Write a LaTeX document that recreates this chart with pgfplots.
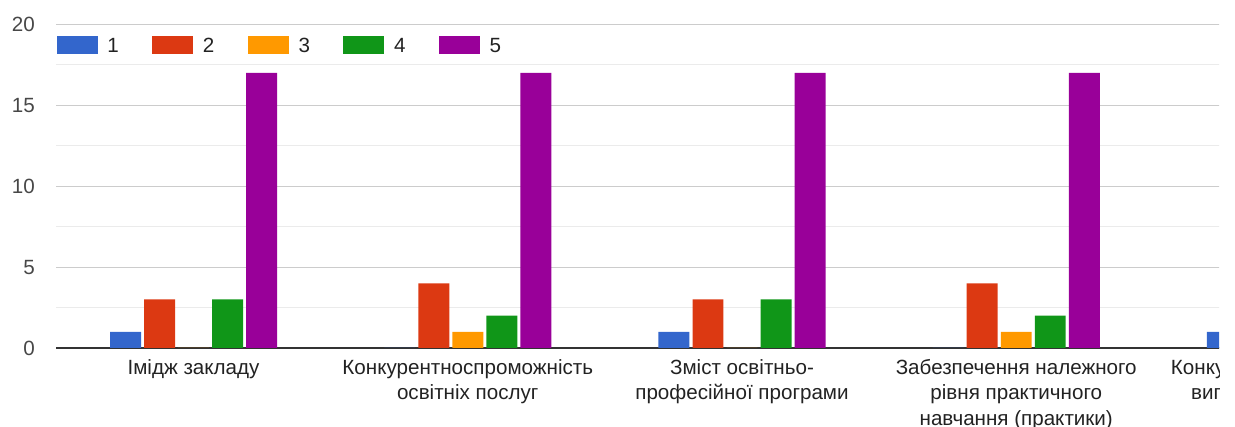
\documentclass[border=0pt]{standalone}
\usepackage{fontspec}
\setmainfont{Liberation Sans}
\usepackage{pgfplots}
\pgfplotsset{compat=1.18}

\definecolor{gblue}{HTML}{3366CC}
\definecolor{gred}{HTML}{DC3912}
\definecolor{gorange}{HTML}{FF9900}
\definecolor{ggreen}{HTML}{109618}
\definecolor{gpurple}{HTML}{990099}
\definecolor{gridmaj}{HTML}{CCCCCC}
\definecolor{gridmin}{HTML}{EBEBEB}
\definecolor{txt}{HTML}{222222}

% 1 px of the reference = 0.5pt
\newcommand{\lblfont}{\fontsize{10.3}{12.6}\selectfont}

\begin{document}
\begin{tikzpicture}
  \useasboundingbox (-28.2pt,-39.5pt) rectangle (589.3pt,174pt);
  % the reference is a cropped screenshot: chart cut off at the right
  \clip (-28.2pt,-39.5pt) rectangle (581.3pt,174pt);
  \begin{axis}[
    scale only axis,
    width=685.6pt, height=161.85pt,
    ybar,
    bar width=0.113,
    xmin=-0.5, xmax=4.5,
    ymin=0, ymax=20,
    xtick={0,1,2,3,4},
    xticklabels={
      Імідж закладу,
      Конкурентноспроможність\\освітніх послуг,
      Зміст освітньо-\\професійної програми,
      Забезпечення належного\\рівня практичного\\навчання (практики),
      Конкурентоспроможність\\випускників на ринку},
    ytick={0,5,10,15,20},
    minor ytick={2.5,7.5,12.5,17.5},
    ymajorgrids, yminorgrids,
    major grid style={draw=gridmaj, line width=0.5pt},
    minor grid style={draw=gridmin, line width=0.5pt},
    axis line style={draw=none},
    major tick length=0pt, minor tick length=0pt,
    tick style={draw=none},
    extra y ticks={0},
    extra y tick labels={},
    extra y tick style={grid=major, major grid style={draw=black!80, line width=0.7pt}},
    /pgf/number format/assume math mode=true,
    yticklabel style={font=\lblfont, text=black!72, inner sep=0pt, anchor=east, xshift=-10.6pt},
    xticklabel style={font=\lblfont, text=txt, align=center, inner sep=0pt, anchor=north, yshift=-5.6pt},
    legend columns=-1,
    legend image code/.code={\fill[#1] (0pt,-3.6pt) rectangle (20.5pt,5.4pt);},
    legend style={at={(axis description cs:0,1)}, anchor=north west, yshift=-5.85pt,
      draw=none, fill=none, inner sep=0pt, font=\lblfont, text=txt,
      nodes={inner sep=0pt},
      /tikz/every odd column/.append style={column sep=4.8pt},
      /tikz/every even column/.append style={column sep=16.75pt}},
  ]
    \addplot[fill=gblue, draw=none, bar shift=-0.248]
      coordinates {(0,1) (1,0) (2,1) (3,0) (4,1)};
    \addplot[fill=gred, draw=none, bar shift=-0.124]
      coordinates {(0,3) (1,4) (2,3) (3,4)};
    \addplot[fill=gorange, draw=none, bar shift=0]
      coordinates {(0,0) (1,1) (2,0) (3,1)};
    \addplot[fill=ggreen, draw=none, bar shift=0.124]
      coordinates {(0,3) (1,2) (2,3) (3,2)};
    \addplot[fill=gpurple, draw=none, bar shift=0.248]
      coordinates {(0,17) (1,17) (2,17) (3,17)};
    \legend{1,2,3,4,5}
  \end{axis}
\end{tikzpicture}
\end{document}
